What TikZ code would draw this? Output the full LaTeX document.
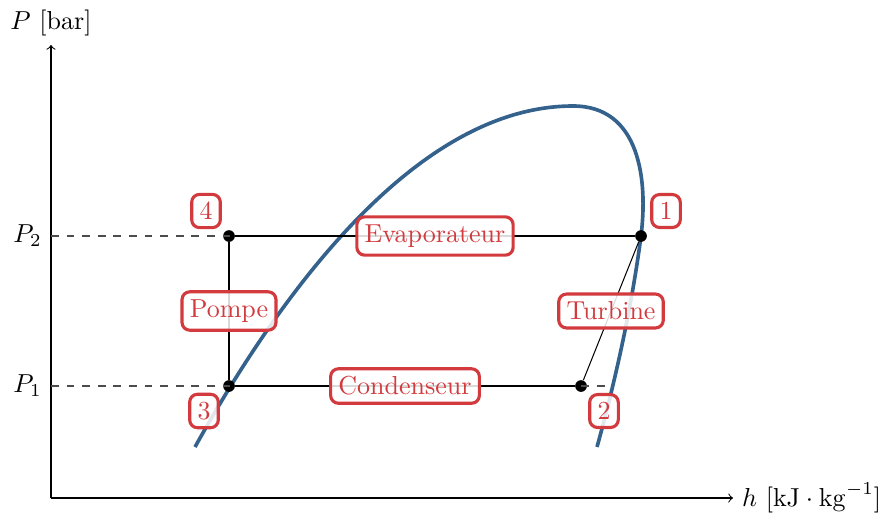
\documentclass[tikz,border=0pt]{standalone}
\usepackage{amsmath}
\usepackage{tikz}
\usetikzlibrary{positioning,arrows}
\definecolor{rouge}{RGB}{210,58,62}
\definecolor{bleu}{RGB}{52,98,140}
\tikzset{
  axe/.style={thin, ->},
  niveau/.style={dashed, black!70},
  cycle/.style={thin, black},
  pt/.style={circle, fill=black, inner sep=0pt, minimum size=4.5pt},
  etiq/.style={draw=rouge, very thick, rounded corners=3pt, fill=white, fill opacity=0.85,
               text opacity=1, text=rouge, inner sep=3pt},
  saturation/.style={draw=bleu, line width=1.4pt}
}

\begin{document}
\begin{tikzpicture}[x=0.3846pt,y=-0.3846pt]
\useasboundingbox (0,0) rectangle (880,515);
% axes
\coordinate (O) at (51,498);
\coordinate (Ptop) at (51,45);
\coordinate (Hend) at (733,498);
\draw[axe] (O) -- (Ptop);
\draw[axe] (O) -- (Hend);
\node[above] at (Ptop) {$P$ [bar]};
\node[right] at (Hend) {$h$ $[\mathrm{kJ}\cdot\mathrm{kg}^{-1}]$};
% pressure levels
\coordinate (y2) at (51,236);
\coordinate (y1) at (51,386);
\coordinate (v1) at (612,386);
\node[left] at (y2) {$P_2$};
\node[left] at (y1) {$P_1$};
% saturation curve
\draw[saturation] (195,447) .. controls (285,285) and (420,106) .. (573,106)
  .. controls (640,106) and (648,180) .. (641,236)
  .. controls (630,320) and (610,400) .. (597,447);
% cycle points
\node[pt] (p1) at (641,236) {};
\node[pt] (p2) at (581,386) {};
\node[pt] (p3) at (229,386) {};
\node[pt] (p4) at (229,236) {};
\draw[niveau] (y2) -- (p1);
\draw[niveau] (y1) -- (v1);
\draw[cycle] (p4) -- node[etiq] {Evaporateur} (p1);
\draw[cycle] (p1) -- node[etiq] {Turbine} (p2);
\draw[cycle] (p3) -- node[etiq] {Condenseur} (p2);
\draw[cycle] (p3) -- node[etiq] {Pompe} (p4);
% point numbers
\node[etiq] (n1) at (666,211) {1};
\node[etiq] (n2) at (604,411) {2};
\node[etiq] (n3) at (204,411) {3};
\node[etiq] (n4) at (206,211) {4};
\end{tikzpicture}
\end{document}
